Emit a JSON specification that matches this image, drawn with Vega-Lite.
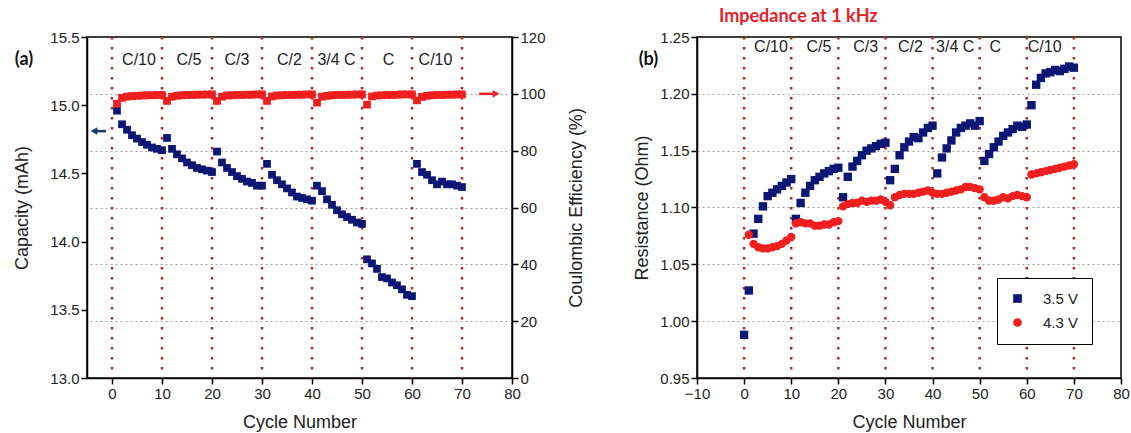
{
  "$schema": "https://vega.github.io/schema/vega-lite/v6.json",
  "background": "white",
  "padding": {"left": 13, "top": 7, "right": 4, "bottom": 2},
  "bounds": "flush",
  "spacing": 185,
  "config": {
    "font": "Liberation Sans",
    "view": {"stroke": "black", "strokeWidth": 1.5},
    "axis": {
      "domainColor": "black", "domainWidth": 1.5,
      "tickColor": "black", "tickWidth": 1.5, "tickSize": 6,
      "labelFont": "Liberation Sans", "labelFontSize": 15, "labelColor": "#222",
      "titleFont": "Liberation Sans", "titleFontSize": 18, "titleFontWeight": "normal", "titleColor": "#222",
      "gridColor": "#a0a0a0", "gridDash": [2, 3], "gridWidth": 1
    }
  },
  "datasets": {
    "bounds": [{"cycle": 0}, {"cycle": 10}, {"cycle": 20}, {"cycle": 30}, {"cycle": 40}, {"cycle": 50}, {"cycle": 60}, {"cycle": 70}],
    "rates": [
      {"rate": "C/10", "a": 5.4, "b": 5.7},
      {"rate": "C/5", "a": 15.4, "b": 15.9},
      {"rate": "C/3", "a": 25, "b": 25.8},
      {"rate": "C/2", "a": 35.5, "b": 35.3},
      {"rate": "3/4 C", "a": 44.9, "b": 44.8},
      {"rate": "C", "a": 55.3, "b": 53.3},
      {"rate": "C/10", "a": 64.7, "b": 63.8}
    ],
    "cap": [
      {"cycle": 1, "capacity": 14.96}, {"cycle": 2, "capacity": 14.86}, {"cycle": 3, "capacity": 14.82}, {"cycle": 4, "capacity": 14.78}, {"cycle": 5, "capacity": 14.755},
      {"cycle": 6, "capacity": 14.73}, {"cycle": 7, "capacity": 14.71}, {"cycle": 8, "capacity": 14.69}, {"cycle": 9, "capacity": 14.68}, {"cycle": 10, "capacity": 14.67},
      {"cycle": 11, "capacity": 14.76}, {"cycle": 12, "capacity": 14.68}, {"cycle": 13, "capacity": 14.64}, {"cycle": 14, "capacity": 14.61}, {"cycle": 15, "capacity": 14.58},
      {"cycle": 16, "capacity": 14.56}, {"cycle": 17, "capacity": 14.54}, {"cycle": 18, "capacity": 14.53}, {"cycle": 19, "capacity": 14.52}, {"cycle": 20, "capacity": 14.51},
      {"cycle": 21, "capacity": 14.66}, {"cycle": 22, "capacity": 14.58}, {"cycle": 23, "capacity": 14.54}, {"cycle": 24, "capacity": 14.51}, {"cycle": 25, "capacity": 14.48},
      {"cycle": 26, "capacity": 14.46}, {"cycle": 27, "capacity": 14.44}, {"cycle": 28, "capacity": 14.43}, {"cycle": 29, "capacity": 14.41}, {"cycle": 30, "capacity": 14.41},
      {"cycle": 31, "capacity": 14.57}, {"cycle": 32, "capacity": 14.49}, {"cycle": 33, "capacity": 14.45}, {"cycle": 34, "capacity": 14.42}, {"cycle": 35, "capacity": 14.39},
      {"cycle": 36, "capacity": 14.36}, {"cycle": 37, "capacity": 14.33}, {"cycle": 38, "capacity": 14.32}, {"cycle": 39, "capacity": 14.31}, {"cycle": 40, "capacity": 14.30},
      {"cycle": 41, "capacity": 14.41}, {"cycle": 42, "capacity": 14.37}, {"cycle": 43, "capacity": 14.31}, {"cycle": 44, "capacity": 14.27}, {"cycle": 45, "capacity": 14.23},
      {"cycle": 46, "capacity": 14.20}, {"cycle": 47, "capacity": 14.18}, {"cycle": 48, "capacity": 14.16}, {"cycle": 49, "capacity": 14.14}, {"cycle": 50, "capacity": 14.13},
      {"cycle": 51, "capacity": 13.87}, {"cycle": 52, "capacity": 13.84}, {"cycle": 53, "capacity": 13.80}, {"cycle": 54, "capacity": 13.74}, {"cycle": 55, "capacity": 13.73},
      {"cycle": 56, "capacity": 13.70}, {"cycle": 57, "capacity": 13.68}, {"cycle": 58, "capacity": 13.65}, {"cycle": 59, "capacity": 13.61}, {"cycle": 60, "capacity": 13.60},
      {"cycle": 61, "capacity": 14.57}, {"cycle": 62, "capacity": 14.51}, {"cycle": 63, "capacity": 14.49}, {"cycle": 64, "capacity": 14.45}, {"cycle": 65, "capacity": 14.42},
      {"cycle": 66, "capacity": 14.44}, {"cycle": 67, "capacity": 14.42}, {"cycle": 68, "capacity": 14.42}, {"cycle": 69, "capacity": 14.41}, {"cycle": 70, "capacity": 14.40}
    ],
    "ce": [
      {"cycle": 1, "ce": 96.5}, {"cycle": 2, "ce": 98.6}, {"cycle": 3, "ce": 99.0}, {"cycle": 4, "ce": 99.2}, {"cycle": 5, "ce": 99.3},
      {"cycle": 6, "ce": 99.4}, {"cycle": 7, "ce": 99.5}, {"cycle": 8, "ce": 99.5}, {"cycle": 9, "ce": 99.6}, {"cycle": 10, "ce": 99.6},
      {"cycle": 11, "ce": 97.5}, {"cycle": 12, "ce": 99.0}, {"cycle": 13, "ce": 99.3}, {"cycle": 14, "ce": 99.5}, {"cycle": 15, "ce": 99.6},
      {"cycle": 16, "ce": 99.6}, {"cycle": 17, "ce": 99.7}, {"cycle": 18, "ce": 99.7}, {"cycle": 19, "ce": 99.8}, {"cycle": 20, "ce": 99.8},
      {"cycle": 21, "ce": 97.5}, {"cycle": 22, "ce": 99.0}, {"cycle": 23, "ce": 99.4}, {"cycle": 24, "ce": 99.5}, {"cycle": 25, "ce": 99.6},
      {"cycle": 26, "ce": 99.6}, {"cycle": 27, "ce": 99.7}, {"cycle": 28, "ce": 99.7}, {"cycle": 29, "ce": 99.8}, {"cycle": 30, "ce": 99.8},
      {"cycle": 31, "ce": 97.5}, {"cycle": 32, "ce": 99.1}, {"cycle": 33, "ce": 99.4}, {"cycle": 34, "ce": 99.5}, {"cycle": 35, "ce": 99.6},
      {"cycle": 36, "ce": 99.6}, {"cycle": 37, "ce": 99.7}, {"cycle": 38, "ce": 99.7}, {"cycle": 39, "ce": 99.8}, {"cycle": 40, "ce": 99.8},
      {"cycle": 41, "ce": 96.9}, {"cycle": 42, "ce": 99.0}, {"cycle": 43, "ce": 99.3}, {"cycle": 44, "ce": 99.5}, {"cycle": 45, "ce": 99.6},
      {"cycle": 46, "ce": 99.6}, {"cycle": 47, "ce": 99.7}, {"cycle": 48, "ce": 99.7}, {"cycle": 49, "ce": 99.8}, {"cycle": 50, "ce": 99.8},
      {"cycle": 51, "ce": 96.2}, {"cycle": 52, "ce": 99.1}, {"cycle": 53, "ce": 99.4}, {"cycle": 54, "ce": 99.5}, {"cycle": 55, "ce": 99.6},
      {"cycle": 56, "ce": 99.6}, {"cycle": 57, "ce": 99.7}, {"cycle": 58, "ce": 99.8}, {"cycle": 59, "ce": 99.8}, {"cycle": 60, "ce": 99.8},
      {"cycle": 61, "ce": 97.7}, {"cycle": 62, "ce": 98.9}, {"cycle": 63, "ce": 99.3}, {"cycle": 64, "ce": 99.5}, {"cycle": 65, "ce": 99.6},
      {"cycle": 66, "ce": 99.6}, {"cycle": 67, "ce": 99.7}, {"cycle": 68, "ce": 99.7}, {"cycle": 69, "ce": 99.8}, {"cycle": 70, "ce": 99.8}
    ],
    "res": [
      {"cycle": 0, "series": "3.5 V", "r": 0.988}, {"cycle": 1, "series": "3.5 V", "r": 1.027}, {"cycle": 2, "series": "3.5 V", "r": 1.077}, {"cycle": 3, "series": "3.5 V", "r": 1.090},
      {"cycle": 4, "series": "3.5 V", "r": 1.101}, {"cycle": 5, "series": "3.5 V", "r": 1.110}, {"cycle": 6, "series": "3.5 V", "r": 1.113}, {"cycle": 7, "series": "3.5 V", "r": 1.116},
      {"cycle": 8, "series": "3.5 V", "r": 1.119}, {"cycle": 9, "series": "3.5 V", "r": 1.122}, {"cycle": 10, "series": "3.5 V", "r": 1.125},
      {"cycle": 11, "series": "3.5 V", "r": 1.090}, {"cycle": 12, "series": "3.5 V", "r": 1.104}, {"cycle": 13, "series": "3.5 V", "r": 1.113}, {"cycle": 14, "series": "3.5 V", "r": 1.119},
      {"cycle": 15, "series": "3.5 V", "r": 1.124}, {"cycle": 16, "series": "3.5 V", "r": 1.127}, {"cycle": 17, "series": "3.5 V", "r": 1.130}, {"cycle": 18, "series": "3.5 V", "r": 1.132},
      {"cycle": 19, "series": "3.5 V", "r": 1.134}, {"cycle": 20, "series": "3.5 V", "r": 1.135},
      {"cycle": 21, "series": "3.5 V", "r": 1.109}, {"cycle": 22, "series": "3.5 V", "r": 1.127}, {"cycle": 23, "series": "3.5 V", "r": 1.136}, {"cycle": 24, "series": "3.5 V", "r": 1.141},
      {"cycle": 25, "series": "3.5 V", "r": 1.146}, {"cycle": 26, "series": "3.5 V", "r": 1.150}, {"cycle": 27, "series": "3.5 V", "r": 1.152}, {"cycle": 28, "series": "3.5 V", "r": 1.154},
      {"cycle": 29, "series": "3.5 V", "r": 1.156}, {"cycle": 30, "series": "3.5 V", "r": 1.157},
      {"cycle": 31, "series": "3.5 V", "r": 1.124}, {"cycle": 32, "series": "3.5 V", "r": 1.134}, {"cycle": 33, "series": "3.5 V", "r": 1.146}, {"cycle": 34, "series": "3.5 V", "r": 1.153},
      {"cycle": 35, "series": "3.5 V", "r": 1.158}, {"cycle": 36, "series": "3.5 V", "r": 1.162}, {"cycle": 37, "series": "3.5 V", "r": 1.161}, {"cycle": 38, "series": "3.5 V", "r": 1.166},
      {"cycle": 39, "series": "3.5 V", "r": 1.170}, {"cycle": 40, "series": "3.5 V", "r": 1.172},
      {"cycle": 41, "series": "3.5 V", "r": 1.130}, {"cycle": 42, "series": "3.5 V", "r": 1.144}, {"cycle": 43, "series": "3.5 V", "r": 1.152}, {"cycle": 44, "series": "3.5 V", "r": 1.159},
      {"cycle": 45, "series": "3.5 V", "r": 1.166}, {"cycle": 46, "series": "3.5 V", "r": 1.170}, {"cycle": 47, "series": "3.5 V", "r": 1.172}, {"cycle": 48, "series": "3.5 V", "r": 1.174},
      {"cycle": 49, "series": "3.5 V", "r": 1.172}, {"cycle": 50, "series": "3.5 V", "r": 1.176},
      {"cycle": 51, "series": "3.5 V", "r": 1.141}, {"cycle": 52, "series": "3.5 V", "r": 1.147}, {"cycle": 53, "series": "3.5 V", "r": 1.153}, {"cycle": 54, "series": "3.5 V", "r": 1.158},
      {"cycle": 55, "series": "3.5 V", "r": 1.163}, {"cycle": 56, "series": "3.5 V", "r": 1.166}, {"cycle": 57, "series": "3.5 V", "r": 1.169}, {"cycle": 58, "series": "3.5 V", "r": 1.172},
      {"cycle": 59, "series": "3.5 V", "r": 1.171}, {"cycle": 60, "series": "3.5 V", "r": 1.173},
      {"cycle": 61, "series": "3.5 V", "r": 1.190}, {"cycle": 62, "series": "3.5 V", "r": 1.208}, {"cycle": 63, "series": "3.5 V", "r": 1.214}, {"cycle": 64, "series": "3.5 V", "r": 1.218},
      {"cycle": 65, "series": "3.5 V", "r": 1.219}, {"cycle": 66, "series": "3.5 V", "r": 1.221}, {"cycle": 67, "series": "3.5 V", "r": 1.220}, {"cycle": 68, "series": "3.5 V", "r": 1.222},
      {"cycle": 69, "series": "3.5 V", "r": 1.224}, {"cycle": 70, "series": "3.5 V", "r": 1.223},
      {"cycle": 1, "series": "4.3 V", "r": 1.076}, {"cycle": 2, "series": "4.3 V", "r": 1.068}, {"cycle": 3, "series": "4.3 V", "r": 1.065}, {"cycle": 4, "series": "4.3 V", "r": 1.064},
      {"cycle": 5, "series": "4.3 V", "r": 1.064}, {"cycle": 6, "series": "4.3 V", "r": 1.065}, {"cycle": 7, "series": "4.3 V", "r": 1.066}, {"cycle": 8, "series": "4.3 V", "r": 1.068},
      {"cycle": 9, "series": "4.3 V", "r": 1.071}, {"cycle": 10, "series": "4.3 V", "r": 1.074},
      {"cycle": 11, "series": "4.3 V", "r": 1.086}, {"cycle": 12, "series": "4.3 V", "r": 1.087}, {"cycle": 13, "series": "4.3 V", "r": 1.086}, {"cycle": 14, "series": "4.3 V", "r": 1.086},
      {"cycle": 15, "series": "4.3 V", "r": 1.084}, {"cycle": 16, "series": "4.3 V", "r": 1.084}, {"cycle": 17, "series": "4.3 V", "r": 1.085}, {"cycle": 18, "series": "4.3 V", "r": 1.085},
      {"cycle": 19, "series": "4.3 V", "r": 1.087}, {"cycle": 20, "series": "4.3 V", "r": 1.088},
      {"cycle": 21, "series": "4.3 V", "r": 1.101}, {"cycle": 22, "series": "4.3 V", "r": 1.103}, {"cycle": 23, "series": "4.3 V", "r": 1.104}, {"cycle": 24, "series": "4.3 V", "r": 1.104},
      {"cycle": 25, "series": "4.3 V", "r": 1.106}, {"cycle": 26, "series": "4.3 V", "r": 1.105}, {"cycle": 27, "series": "4.3 V", "r": 1.106}, {"cycle": 28, "series": "4.3 V", "r": 1.106},
      {"cycle": 29, "series": "4.3 V", "r": 1.107}, {"cycle": 30, "series": "4.3 V", "r": 1.105},
      {"cycle": 31, "series": "4.3 V", "r": 1.102}, {"cycle": 32, "series": "4.3 V", "r": 1.109}, {"cycle": 33, "series": "4.3 V", "r": 1.111}, {"cycle": 34, "series": "4.3 V", "r": 1.112},
      {"cycle": 35, "series": "4.3 V", "r": 1.112}, {"cycle": 36, "series": "4.3 V", "r": 1.112}, {"cycle": 37, "series": "4.3 V", "r": 1.113}, {"cycle": 38, "series": "4.3 V", "r": 1.114},
      {"cycle": 39, "series": "4.3 V", "r": 1.115}, {"cycle": 40, "series": "4.3 V", "r": 1.113},
      {"cycle": 41, "series": "4.3 V", "r": 1.112}, {"cycle": 42, "series": "4.3 V", "r": 1.112}, {"cycle": 43, "series": "4.3 V", "r": 1.113}, {"cycle": 44, "series": "4.3 V", "r": 1.114},
      {"cycle": 45, "series": "4.3 V", "r": 1.115}, {"cycle": 46, "series": "4.3 V", "r": 1.116}, {"cycle": 47, "series": "4.3 V", "r": 1.118}, {"cycle": 48, "series": "4.3 V", "r": 1.118},
      {"cycle": 49, "series": "4.3 V", "r": 1.117}, {"cycle": 50, "series": "4.3 V", "r": 1.116},
      {"cycle": 51, "series": "4.3 V", "r": 1.109}, {"cycle": 52, "series": "4.3 V", "r": 1.106}, {"cycle": 53, "series": "4.3 V", "r": 1.106}, {"cycle": 54, "series": "4.3 V", "r": 1.107},
      {"cycle": 55, "series": "4.3 V", "r": 1.109}, {"cycle": 56, "series": "4.3 V", "r": 1.108}, {"cycle": 57, "series": "4.3 V", "r": 1.110}, {"cycle": 58, "series": "4.3 V", "r": 1.111},
      {"cycle": 59, "series": "4.3 V", "r": 1.110}, {"cycle": 60, "series": "4.3 V", "r": 1.109},
      {"cycle": 61, "series": "4.3 V", "r": 1.129}, {"cycle": 62, "series": "4.3 V", "r": 1.130}, {"cycle": 63, "series": "4.3 V", "r": 1.131}, {"cycle": 64, "series": "4.3 V", "r": 1.132},
      {"cycle": 65, "series": "4.3 V", "r": 1.133}, {"cycle": 66, "series": "4.3 V", "r": 1.134}, {"cycle": 67, "series": "4.3 V", "r": 1.135}, {"cycle": 68, "series": "4.3 V", "r": 1.136},
      {"cycle": 69, "series": "4.3 V", "r": 1.137}, {"cycle": 70, "series": "4.3 V", "r": 1.138}
    ],
    "capArrow": [{"tail": -1.2, "head": -3.6, "level": 14.81}],
    "ceArrow": [{"tail": 73.4, "head": 76.8, "level": 100}],
    "one": [{"tag": "x"}]
  },
  "hconcat": [
    {
      "width": 425,
      "height": 341,
      "resolve": {"scale": {"y": "independent"}, "axis": {"y": "independent"}},
      "layer": [
        {
          "layer": [
            {
              "data": {"name": "bounds"},
              "mark": {"type": "rule", "color": "#b3262c", "strokeDash": [2.5, 7.5], "strokeWidth": 2.5},
              "encoding": {
                "x": {
                  "field": "cycle", "type": "quantitative",
                  "scale": {"domain": [-5, 80], "nice": false, "zero": false},
                  "axis": {
                    "title": "Cycle Number", "titlePadding": 12,
                    "values": [0, 10, 20, 30, 40, 50, 60, 70, 80],
                    "grid": false, "labelFlush": false
                  }
                }
              }
            },
            {
              "data": {"name": "cap"},
              "mark": {"type": "point", "shape": "square", "filled": true, "size": 60, "color": "#0c1675", "opacity": 1},
              "encoding": {
                "x": {"field": "cycle", "type": "quantitative"},
                "y": {
                  "field": "capacity", "type": "quantitative",
                  "scale": {"domain": [13, 15.5], "nice": false, "zero": false},
                  "axis": {
                    "title": "Capacity (mAh)", "titlePadding": 18, "grid": false,
                    "values": [13, 13.25, 13.5, 13.75, 14, 14.25, 14.5, 14.75, 15, 15.25, 15.5],
                    "labelExpr": "round(datum.value * 100) % 50 == 0 ? format(datum.value, '.1f') : ''",
                    "tickSize": {"condition": {"test": "round(datum.value * 100) % 50 != 0", "value": 3}, "value": 6},
                    "labelFlush": false, "labelOverlap": false
                  }
                }
              }
            },
            {
              "data": {"name": "rates"},
              "mark": {"type": "text", "font": "Liberation Sans", "fontSize": 16, "color": "#222"},
              "encoding": {
                "x": {"field": "a", "type": "quantitative"},
                "y": {"datum": 15.33, "type": "quantitative"},
                "text": {"field": "rate", "type": "nominal"}
              }
            },
            {
              "data": {"name": "one"},
              "mark": {"type": "text", "font": "Lato", "fontWeight": "bold", "fontSize": 18, "color": "#111", "text": "(a)"},
              "encoding": {
                "x": {"datum": -17.6, "type": "quantitative"},
                "y": {"datum": 15.33, "type": "quantitative"}
              }
            },
            {
              "data": {"name": "capArrow"},
              "mark": {"type": "rule", "color": "#1a3a6e", "strokeWidth": 2.5},
              "encoding": {
                "x": {"field": "tail", "type": "quantitative"},
                "x2": {"field": "head"},
                "y": {"field": "level", "type": "quantitative"}
              }
            },
            {
              "data": {"name": "capArrow"},
              "mark": {"type": "point", "shape": "triangle-left", "filled": true, "size": 60, "color": "#1a3a6e", "opacity": 1},
              "encoding": {
                "x": {"field": "head", "type": "quantitative"},
                "y": {"field": "level", "type": "quantitative"}
              }
            }
          ]
        },
        {
          "layer": [
            {
              "data": {"name": "ce"},
              "mark": {"type": "point", "shape": "square", "filled": true, "size": 60, "color": "#f01e1e", "opacity": 1},
              "encoding": {
                "x": {"field": "cycle", "type": "quantitative"},
                "y": {
                  "field": "ce", "type": "quantitative",
                  "scale": {"domain": [0, 120], "nice": false},
                  "axis": {
                    "orient": "right", "title": "Coulombic Efficiency (%)", "titleAngle": 270, "titlePadding": 40,
                    "values": [0, 10, 20, 30, 40, 50, 60, 70, 80, 90, 100, 110, 120],
                    "labelExpr": "datum.value % 20 == 0 ? datum.label : ''",
                    "tickSize": {"condition": {"test": "datum.value % 20 != 0", "value": 3}, "value": 6},
                    "grid": true,
                    "gridOpacity": {"condition": {"test": "datum.value % 20 != 0 || datum.value == 0 || datum.value == 120", "value": 0}, "value": 1},
                    "labelFlush": false, "labelOverlap": false
                  }
                }
              }
            },
            {
              "data": {"name": "ceArrow"},
              "mark": {"type": "rule", "color": "#e8202a", "strokeWidth": 2.5},
              "encoding": {
                "x": {"field": "tail", "type": "quantitative"},
                "x2": {"field": "head"},
                "y": {"field": "level", "type": "quantitative"}
              }
            },
            {
              "data": {"name": "ceArrow"},
              "mark": {"type": "point", "shape": "triangle-right", "filled": true, "size": 60, "color": "#e8202a", "opacity": 1},
              "encoding": {
                "x": {"field": "head", "type": "quantitative"},
                "y": {"field": "level", "type": "quantitative"}
              }
            }
          ]
        }
      ]
    },
    {
      "width": 424,
      "height": 341,
      "title": {"text": "Impedance at 1 kHz", "anchor": "start", "frame": "group", "dx": 22, "offset": 4, "color": "#e8202a", "font": "Lato", "fontSize": 18, "fontWeight": "bold"},
      "layer": [
        {
          "data": {"name": "bounds"},
          "mark": {"type": "rule", "color": "#b3262c", "strokeDash": [2.5, 7.5], "strokeWidth": 2.5},
          "encoding": {
            "x": {
              "field": "cycle", "type": "quantitative",
              "scale": {"domain": [-10, 80], "nice": false, "zero": false},
              "axis": {
                "title": "Cycle Number", "titlePadding": 12,
                "values": [-10, -5, 0, 5, 10, 15, 20, 25, 30, 35, 40, 45, 50, 55, 60, 65, 70, 75, 80],
                "labelExpr": "datum.value % 10 == 0 ? datum.label : ''",
                "tickSize": {"condition": {"test": "datum.value % 10 != 0", "value": 3}, "value": 6},
                "grid": false, "labelFlush": false, "labelOverlap": false
              }
            }
          }
        },
        {
          "data": {"name": "res"},
          "mark": {"type": "point", "filled": true, "size": 70, "opacity": 1},
          "encoding": {
            "x": {"field": "cycle", "type": "quantitative"},
            "y": {
              "field": "r", "type": "quantitative",
              "scale": {"domain": [0.95, 1.25], "nice": false, "zero": false},
              "axis": {
                "title": "Resistance (Ohm)", "titlePadding": 8,
                "values": [0.95, 0.975, 1, 1.025, 1.05, 1.075, 1.1, 1.125, 1.15, 1.175, 1.2, 1.225, 1.25],
                "labelExpr": "round(datum.value * 1000) % 50 == 0 ? format(datum.value, '.2f') : ''",
                "tickSize": {"condition": {"test": "round(datum.value * 1000) % 50 != 0", "value": 3}, "value": 6},
                "grid": true,
                "gridOpacity": {"condition": {"test": "round(datum.value * 1000) % 50 != 0 || datum.value < 0.96 || datum.value > 1.24", "value": 0}, "value": 1},
                "labelFlush": false, "labelOverlap": false
              }
            },
            "color": {
              "field": "series", "type": "nominal",
              "scale": {"domain": ["3.5 V", "4.3 V"], "range": ["#0c1675", "#f01e1e"]},
              "legend": {
                "orient": "none", "legendX": 910, "legendY": 241, "title": null,
                "strokeColor": "black", "padding": 13, "fillColor": "white",
                "labelFont": "Liberation Sans", "labelFontSize": 15, "labelColor": "#222",
                "symbolSize": 75, "symbolStrokeWidth": 0, "labelOffset": 18, "rowPadding": 8
              }
            },
            "shape": {
              "field": "series", "type": "nominal",
              "scale": {"domain": ["3.5 V", "4.3 V"], "range": ["square", "circle"]}
            }
          }
        },
        {
          "data": {"name": "rates"},
          "mark": {"type": "text", "font": "Liberation Sans", "fontSize": 16, "color": "#222"},
          "encoding": {
            "x": {"field": "b", "type": "quantitative"},
            "y": {"datum": 1.241, "type": "quantitative"},
            "text": {"field": "rate", "type": "nominal"}
          }
        },
        {
          "data": {"name": "one"},
          "mark": {"type": "text", "font": "Lato", "fontWeight": "bold", "fontSize": 18, "color": "#111", "text": "(b)"},
          "encoding": {
            "x": {"datum": -20.3, "type": "quantitative"},
            "y": {"datum": 1.2297, "type": "quantitative"}
          }
        }
      ]
    }
  ]
}
